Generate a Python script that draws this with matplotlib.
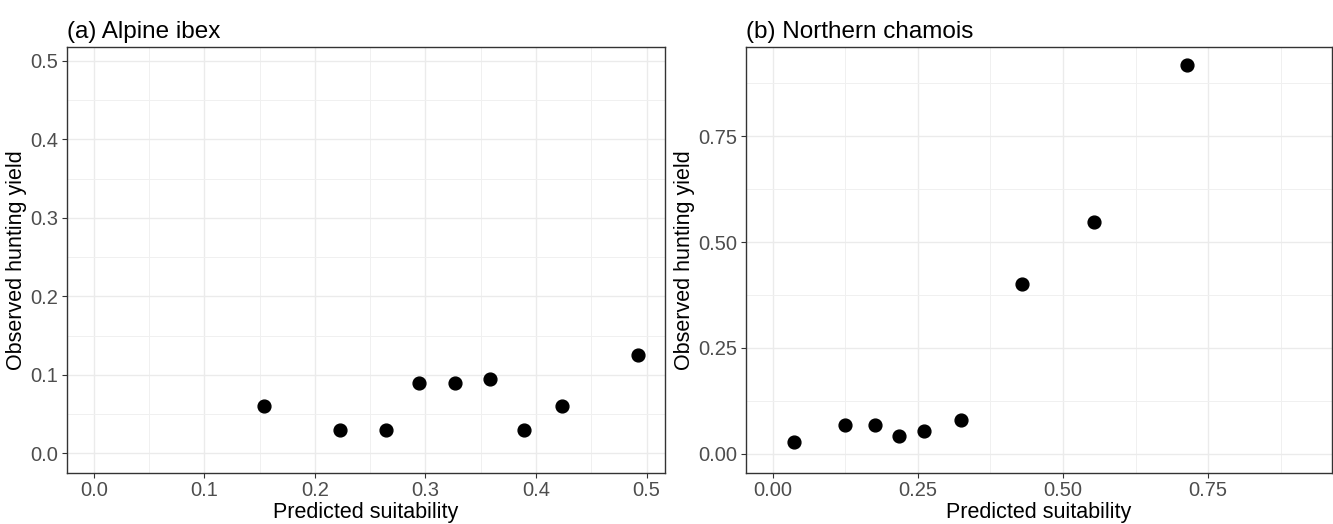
import matplotlib.pyplot as plt
from matplotlib.ticker import FixedLocator

plt.rcParams['font.family'] = ['Liberation Sans', 'DejaVu Sans']

# (a) Alpine ibex
ibex_x = [0.154, 0.223, 0.264, 0.294, 0.327, 0.358, 0.389, 0.423, 0.492]
ibex_y = [0.060, 0.030, 0.030, 0.090, 0.090, 0.095, 0.030, 0.060, 0.125]
ibex_ticks = [0.0, 0.1, 0.2, 0.3, 0.4, 0.5]
ibex_labels = ['0.0', '0.1', '0.2', '0.3', '0.4', '0.5']

# (b) Northern chamois
chamois_x = [0.037, 0.125, 0.176, 0.218, 0.260, 0.324, 0.429, 0.554, 0.713]
chamois_y = [0.028, 0.068, 0.068, 0.042, 0.054, 0.080, 0.400, 0.547, 0.918]
chamois_ticks = [0.0, 0.25, 0.5, 0.75]
chamois_labels = ['0.00', '0.25', '0.50', '0.75']

fig = plt.figure(figsize=(13.33, 5.24), dpi=100)
ax1 = fig.add_axes([0.0499, 0.0973, 0.449, 0.8137])
ax2 = fig.add_axes([0.5593, 0.0973, 0.440, 0.8137])


def style(ax, title, ticks, labels, lims, minor):
    ax.set_xlim(lims[0])
    ax.set_ylim(lims[1])
    ax.set_xticks(ticks)
    ax.set_xticklabels(labels)
    ax.set_yticks(ticks)
    ax.set_yticklabels(labels)
    ax.xaxis.set_minor_locator(FixedLocator(minor[0]))
    ax.yaxis.set_minor_locator(FixedLocator(minor[1]))
    ax.grid(True, which='major', color='#EBEBEB', lw=1.0)
    ax.grid(True, which='minor', color='#F0F0F0', lw=0.7)
    ax.set_axisbelow(True)
    ax.tick_params(which='major', length=3.5, width=0.8, color='#333333',
                   labelsize=14.5, labelcolor='#4D4D4D', pad=2.5)
    ax.tick_params(which='minor', length=0)
    for s in ax.spines.values():
        s.set_color('#333333')
        s.set_linewidth(1.0)
    ax.set_xlabel('Predicted suitability', fontsize=15.5, labelpad=1)
    ax.set_ylabel('Observed hunting yield', fontsize=15.5, labelpad=2)
    ax.set_title(title, fontsize=17.5, loc='left', x=0.0, pad=6)


ax1.scatter(ibex_x, ibex_y, s=85, color='black', zorder=3)
style(ax1, '(a) Alpine ibex', ibex_ticks, ibex_labels,
      [(-0.0246, 0.5166), (-0.025, 0.518)],
      [[0.05, 0.15, 0.25, 0.35, 0.45], [0.05, 0.15, 0.25, 0.35, 0.45]])

ax2.scatter(chamois_x, chamois_y, s=85, color='black', zorder=3)
style(ax2, '(b) Northern chamois', chamois_ticks, chamois_labels,
      [(-0.0468, 0.9635), (-0.046, 0.962)],
      [[0.125, 0.375, 0.625, 0.875], [0.125, 0.375, 0.625, 0.875]])

fig.savefig('out.png', dpi=100)
